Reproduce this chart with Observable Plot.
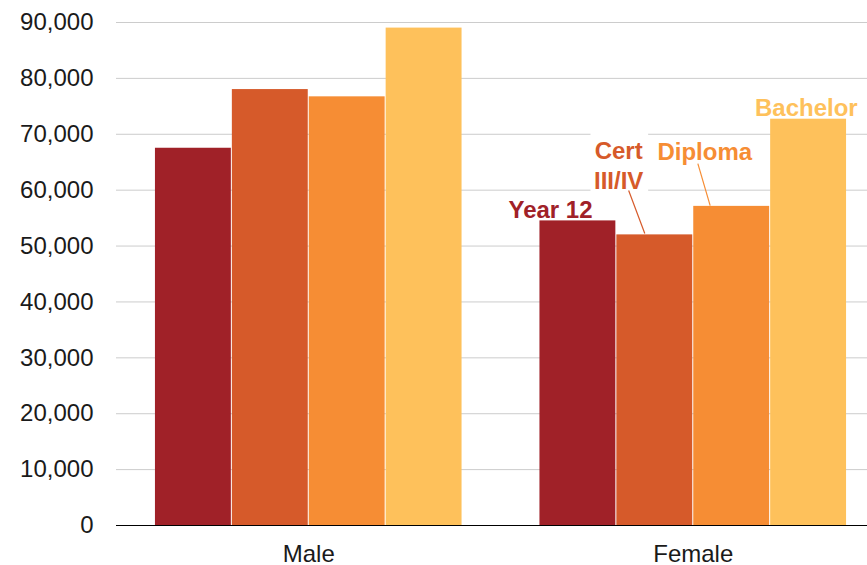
<!DOCTYPE html>
<html>
<head>
<meta charset="utf-8">
<script src="https://cdn.jsdelivr.net/npm/d3@7"></script>
<script src="https://cdn.jsdelivr.net/npm/@observablehq/plot@0.6"></script>
<style>
  body { margin: 0; background: #fff; overflow: hidden; }
  #chart svg { max-width: none !important; display: block; }
</style>
</head>
<body>
<div id="chart"></div>
<script>
// ---- data ----
const sexes = ["Male", "Female"];
const education = ["Year 12", "Cert III/IV", "Diploma", "Bachelor"];
const maleIncome = [67500, 78000, 76700, 89000];
const femaleIncome = [54500, 52000, 57100, 72700];
const yTicks = [0, 10000, 20000, 30000, 40000, 50000, 60000, 70000, 80000, 90000];
const colors = ["#A02128", "#D65A2A", "#F68D34", "#FEC15B"];

// direct labels (on the Female group), in slot / value units
const labelText = ["Year 12", "Cert\nIII/IV", "Diploma", "Bachelor"];
const labelSlot = [0.144, 1.03, 2.15, 3.47];
const labelValue = [56800, 64600, 67100, 74960];
// leader lines: [slotTop, valueTop, slotBottom, valueBottom]
const leaderEdu = ["Cert III/IV", "Diploma"];
const leaderTop = [[1.16, 59930], [2.06, 64760]];
const leaderBottom = [[1.37, 52240], [2.22, 57240]];
// white knock-out behind the "Cert III/IV" label
const knockout = [{ s1: 0.67, s2: 1.42, v1: 59570, v2: 71020 }];

// ---- layout in slot units: each group = 4 bars + 1 gap ----
const groupSize = education.length + 1;
const groupStart = g => 0.5 + g * groupSize;
const series = [maleIncome, femaleIncome];
const rows = sexes.flatMap((sex, g) =>
  education.map((edu, i) => ({
    sex, edu, value: series[g][i],
    x1: groupStart(g) + i, x2: groupStart(g) + i + 1
  }))
);
const fIdx = sexes.indexOf("Female");
const labels = education.map((edu, i) => ({
  edu, text: labelText[i], x: groupStart(fIdx) + labelSlot[i], y: labelValue[i]
}));
const leaders = leaderEdu.map((edu, i) => ({
  edu,
  x1: groupStart(fIdx) + leaderTop[i][0], y1: leaderTop[i][1],
  x2: groupStart(fIdx) + leaderBottom[i][0], y2: leaderBottom[i][1]
}));
const knock = knockout.map(k => ({
  x1: groupStart(fIdx) + k.s1, x2: groupStart(fIdx) + k.s2, y1: k.v1, y2: k.v2
}));
const groupCenters = sexes.map((s, g) => groupStart(g) + education.length / 2);

const chart = Plot.plot({
  width: 867,
  height: 565,
  marginLeft: 116,
  marginRight: 0,
  marginTop: 22,
  marginBottom: 40,
  style: {
    fontFamily: "'Liberation Sans', Arial, sans-serif",
    fontSize: "24px",
    color: "#1a1a1a",
    background: "#fff",
    maxWidth: "none"
  },
  x: {
    domain: [0, sexes.length * groupSize],
    range: [116, 885],
    ticks: groupCenters,
    tickFormat: d => sexes[groupCenters.indexOf(d)],
    tickSize: 0,
    tickPadding: 19,
    label: null
  },
  y: {
    domain: [0, 90000],
    ticks: yTicks,
    tickFormat: d3.format(","),
    tickSize: 0,
    tickPadding: 23,
    label: null
  },
  color: { domain: education, range: colors },
  marks: [
    Plot.ruleY(yTicks, { stroke: "#cccccc", strokeWidth: 1 }),
    Plot.rect(knock, { x1: "x1", x2: "x2", y1: "y1", y2: "y2", fill: "white" }),
    Plot.rect(rows, {
      x1: "x1", x2: "x2", y1: 0, y2: "value", fill: "edu",
      insetLeft: 0.5, insetRight: 0.5
    }),
    Plot.ruleY([0], { stroke: "#000", strokeWidth: 1.2 }),
    Plot.link(leaders, { x1: "x1", y1: "y1", x2: "x2", y2: "y2", stroke: "edu", strokeWidth: 1.2 }),
    Plot.text(labels, {
      x: "x", y: "y", text: "text", fill: "edu",
      fontWeight: "bold", fontSize: 24, lineHeight: 1.25
    })
  ]
});
document.getElementById("chart").appendChild(chart);
</script>
</body>
</html>
